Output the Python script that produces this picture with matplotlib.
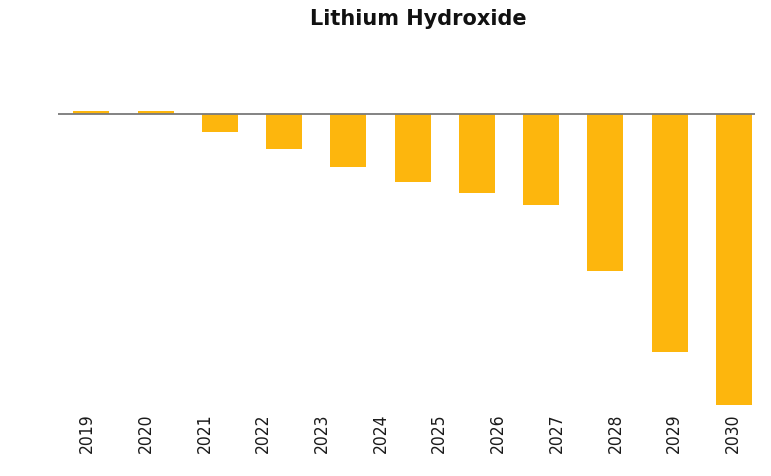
import numpy as np
import matplotlib
matplotlib.use('Agg')
import matplotlib.pyplot as plt

# tick labels along the bottom (12 of them in the picture)
years = ['2019', '2020', '2021', '2022', '2023', '2024',
         '2025', '2026', '2027', '2028', '2029', '2030']
# bar heights (11 bars drawn, arbitrary units)
values = [0.5, 0.5, -3.0, -5.8, -8.8, -11.3, -13.2, -15.1, -26.2, -39.7, -48.5]

bar_color = '#FDB60D'

fig = plt.figure(figsize=(7.71, 4.77), dpi=100)
ax = fig.add_axes([58/771, 1-410/477, (755-58)/771, (410-60)/477])

x = np.arange(len(values))
ax.bar(x, values, width=0.56, color=bar_color, zorder=2)
ax.axhline(0, color='#7a7a7a', lw=1.3, zorder=3)
ax.set_xlim(-0.52, 10.33)
ax.set_ylim(-49.2, 9.17)
ax.axis('off')

# labels sit on their own evenly spaced axis
lab = fig.add_axes([0, 0, 1, 1], facecolor='none')
lab.set_xlim(0, 771)
lab.set_ylim(477, 0)
lab.axis('off')
pos = np.linspace(87, 733, len(years))
for p, y in zip(pos, years):
    lab.text(p, 433, y, rotation=90, ha='center', va='center',
             fontsize=12.5, family='DejaVu Sans', fontstretch='condensed',
             color='#1a1a1a')

fig.text(418/771, 1-19/477, 'Lithium Hydroxide', ha='center', va='center',
         fontsize=15, fontweight='bold', color='#111111')

fig.savefig('out.png', dpi=100)
